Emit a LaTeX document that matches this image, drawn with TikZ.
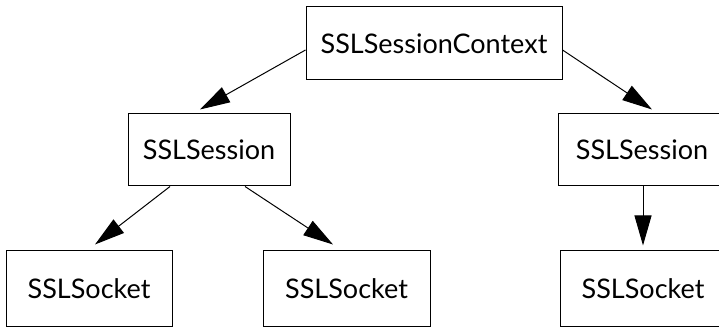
\documentclass[tikz,border=0pt]{standalone}
\usepackage{fontspec}
\setmainfont{Lato}
\usetikzlibrary{arrows.meta}
\begin{document}
\begin{tikzpicture}[x=1pt,y=1pt,
  box/.style={draw, line width=1pt, inner sep=0pt, font=\fontsize{27}{32}\selectfont},
  edge/.style={line width=1pt, -{Triangle[length=30pt,width=17pt]}, shorten >=0pt}]
\useasboundingbox (0,0) rectangle (719,328);
\node[box, minimum width=256pt, minimum height=73pt] (ctx) at (434,284.5) {SSLSessionContext};
\node[box, minimum width=162pt, minimum height=72pt] (lses) at (209,178) {SSLSession};
\node[box, minimum width=168pt, minimum height=72pt] (rses) at (642,178) {SSLSession};
\node[box, minimum width=166pt, minimum height=76pt] (s1) at (89,39) {SSLSocket};
\node[box, minimum width=167pt, minimum height=76pt] (s2) at (346.5,39) {SSLSocket};
\node[box, minimum width=166pt, minimum height=76pt] (s3) at (643,39) {SSLSocket};
\coordinate (t1) at ([shift={(-9pt,4pt)}]lses.north);
\coordinate (t2) at ([shift={(10pt,4pt)}]rses.north);
\coordinate (t3) at ([shift={(6pt,6pt)}]s1.north);
\coordinate (t4) at ([shift={(-13.5pt,6pt)}]s2.north);
\coordinate (t5) at ([yshift=5pt]s3.north);
\draw[edge] ([yshift=-6.5pt]ctx.west) -- (t1);
\draw[edge] ([yshift=-6.5pt]ctx.east) -- (t2);
\draw[edge] ([xshift=-39pt]lses.south) -- (t3);
\draw[edge] ([xshift=36pt]lses.south) -- (t4);
\draw[edge] (rses.south -| t5) -- (t5);
\end{tikzpicture}
\end{document}
